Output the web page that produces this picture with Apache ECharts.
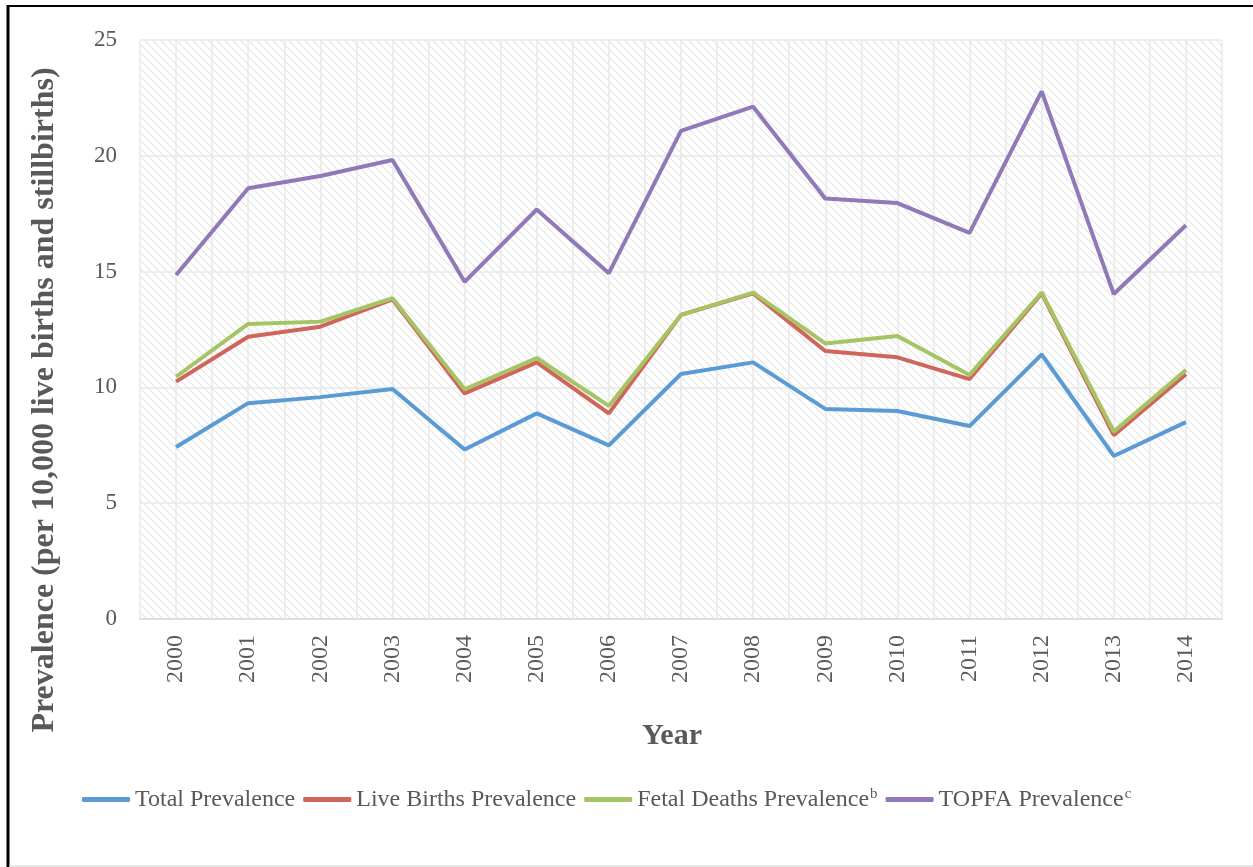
<!DOCTYPE html>
<html><head><meta charset="utf-8">
<script src="https://cdn.jsdelivr.net/npm/echarts@6/dist/echarts.min.js"></script>
<style>html,body{margin:0;padding:0;background:#fff}#c{width:1253px;height:867px}</style>
</head><body><div id="c"></div>
<script>
var years = ['2000','2001','2002','2003','2004','2005','2006','2007','2008','2009','2010','2011','2012','2013','2014'];
var totalPrev = [7.43, 9.32, 9.58, 9.93, 7.32, 8.88, 7.5, 10.58, 11.08, 9.07, 8.98, 8.33, 11.42, 7.04, 8.5];
var liveBirths = [10.25, 12.19, 12.62, 13.8, 9.74, 11.08, 8.88, 13.13, 14.06, 11.57, 11.3, 10.36, 14.06, 7.94, 10.57];
var fetalDeaths = [10.46, 12.74, 12.84, 13.85, 9.92, 11.27, 9.2, 13.13, 14.09, 11.9, 12.22, 10.54, 14.1, 8.09, 10.75];
var topfa = [14.85, 18.6, 19.13, 19.82, 14.56, 17.68, 14.93, 21.08, 22.12, 18.16, 17.96, 16.67, 22.78, 14.03, 17.0];
var yTicks = [0, 5, 10, 15, 20, 25];

var pc = document.createElement('canvas');
pc.width = 8; pc.height = 8;
var g = pc.getContext('2d');
g.fillStyle = '#fff'; g.fillRect(0,0,8,8);
g.strokeStyle = '#e6e6e6'; g.lineWidth = 1.2;
g.beginPath(); g.moveTo(-1,-1); g.lineTo(9,9); g.stroke();
g.beginPath(); g.moveTo(-1,7); g.lineTo(1,9); g.stroke();
g.beginPath(); g.moveTo(7,-1); g.lineTo(9,1); g.stroke();

var font = 'Liberation Serif';
var txt = '#595959';
var chart = echarts.init(document.getElementById('c'));
chart.setOption({
  backgroundColor: '#fff',
  animation: false,
  textStyle: {fontFamily: font},
  grid: {left: 140, right: 31, top: 40, bottom: 248, show: true, borderWidth: 0,
         backgroundColor: {image: pc, repeat: 'repeat'}},
  xAxis: [{
    type: 'category', data: years, boundaryGap: true,
    axisLine: {show: true, lineStyle: {color: '#d9d9d9', width: 1.5}},
    axisTick: {show: false},
    axisLabel: {rotate: 90, color: txt, fontSize: 24, fontFamily: font, margin: 16},
    splitLine: {show: false}
  }, {
    type: 'value', min: -0.5, max: 14.5, interval: 0.5, show: true, position: 'bottom',
    axisLine: {show: false}, axisTick: {show: false}, axisLabel: {show: false},
    splitLine: {show: true, lineStyle: {color: '#e8e8e8', width: 1.5}}
  }],
  yAxis: {
    type: 'value', min: yTicks[0], max: yTicks[yTicks.length-1], interval: 5,
    axisLine: {show: false}, axisTick: {show: false},
    axisLabel: {color: txt, fontSize: 23, fontFamily: font, margin: 23},
    splitLine: {show: true, lineStyle: {color: '#e8e8e8', width: 1.5}}
  },
  legend: {
    left: 77, top: 782, itemGap: 8, itemWidth: 48, itemHeight: 5, icon: 'roundRect',
    textStyle: {color: txt, fontSize: 24, fontFamily: font,
      rich: {
        a: {color: txt, fontSize: 24, fontFamily: font},
        s: {color: txt, fontSize: 15, fontFamily: font, verticalAlign: 'top', padding: [0,0,10,1]}
      }},
    formatter: function(n){
      if (n === 'Fetal Deaths Prevalence') return '{a|' + n + '}{s|b}';
      if (n === 'TOPFA Prevalence') return '{a|' + n + '}{s|c}';
      return '{a|' + n + '}';
    },
    data: ['Total Prevalence','Live Births Prevalence','Fetal Deaths Prevalence','TOPFA Prevalence']
  },
  graphic: [
    {type: 'text', x: 45, y: 400, rotation: Math.PI/2,
     style: {text: 'Prevalence (per 10,000 live births and stillbirths)', fill: txt,
       font: 'bold 32px "Liberation Serif"', textAlign: 'center', textVerticalAlign: 'middle'}},
    {type: 'text', x: 672, y: 736,
     style: {text: 'Year', fill: txt, font: 'bold 30px "Liberation Serif"', textAlign: 'center', textVerticalAlign: 'middle'}},
    {type: 'line', shape: {x1: 8, y1: 5, x2: 8, y2: 867}, style: {stroke: '#000', lineWidth: 3}},
    {type: 'line', shape: {x1: 7, y1: 6, x2: 1253, y2: 6}, style: {stroke: '#000', lineWidth: 2}},
    {type: 'line', shape: {x1: 9, y1: 866, x2: 1253, y2: 866}, style: {stroke: '#d0d0d0', lineWidth: 1}}
  ],
  series: [
    {name: 'Total Prevalence', type: 'line', data: totalPrev, symbol: 'none', lineStyle: {color: '#5b9bd5', width: 4}, itemStyle: {color: '#5b9bd5'}},
    {name: 'Live Births Prevalence', type: 'line', data: liveBirths, symbol: 'none', lineStyle: {color: '#d0655c', width: 4}, itemStyle: {color: '#d0655c'}},
    {name: 'Fetal Deaths Prevalence', type: 'line', data: fetalDeaths, symbol: 'none', lineStyle: {color: '#a5c463', width: 4}, itemStyle: {color: '#a5c463'}},
    {name: 'TOPFA Prevalence', type: 'line', data: topfa, symbol: 'none', lineStyle: {color: '#9178b7', width: 4}, itemStyle: {color: '#9178b7'}}
  ]
});
</script></body></html>
